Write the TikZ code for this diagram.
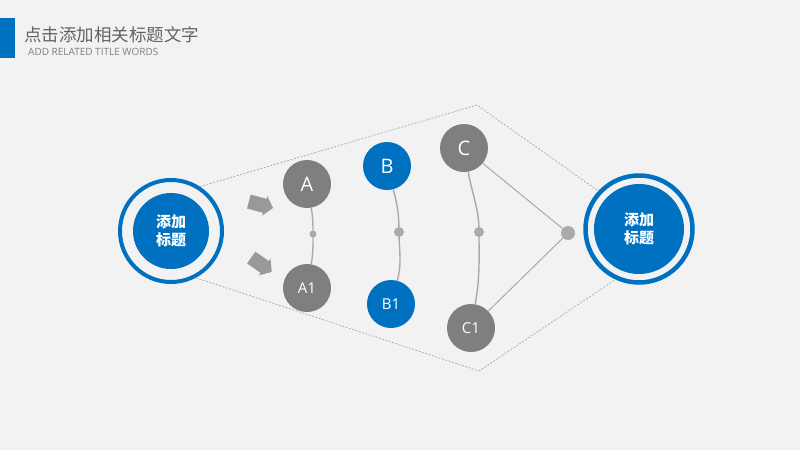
\documentclass[tikz,border=0pt]{standalone}
\usepackage{fontspec}
\setmainfont{Open Sans}
\newfontfamily\cjk{Noto Sans CJK SC}
\usetikzlibrary{shapes.arrows}
\definecolor{mainblue}{RGB}{0,112,192}
\definecolor{ballgray}{RGB}{127,127,127}
\definecolor{linegray}{RGB}{170,170,170}
\definecolor{bggray}{RGB}{242,242,242}
\definecolor{titlegray}{RGB}{100,100,100}
\begin{document}
\begin{tikzpicture}[x=1pt,y=1pt,
    ball/.style={circle,fill=ballgray,text=white,minimum size=48pt,inner sep=0pt},
    blueball/.style={ball,fill=mainblue},
    knot/.style={circle,fill=linegray,inner sep=0pt,minimum size=#1},
    link/.style={draw=linegray,line width=1.4pt},
    hull/.style={draw=linegray,line width=0.7pt,dash pattern=on 2pt off 1.5pt},
    ring/.style={circle,draw=mainblue,inner sep=0pt},
    hub/.style={circle,fill=mainblue,text=white,inner sep=0pt,align=center,
      font=\cjk\bfseries\fontsize{15}{18}\selectfont},
    pointer/.style={single arrow,fill=ballgray!80,inner sep=7pt,minimum height=25pt,
      single arrow head extend=3pt,single arrow tip angle=100}]
  \fill[bggray] (0,0) rectangle (800,-450);
  \useasboundingbox (0,0) rectangle (800,-450);

  % header
  \fill[mainblue] (0,-18) rectangle (15,-58);
  \node[anchor=west,text=titlegray,inner sep=0pt,font=\cjk\fontsize{17.5}{17.5}\selectfont] (title) at (24,-35) {点击添加相关标题文字};
  \node[anchor=west,text=ballgray,inner sep=0pt,font=\fontsize{10}{10}\selectfont] (subtitle) at (28,-52) {ADD RELATED TITLE WORDS};

  % side circles
  \node[ring,line width=4pt,minimum size=102pt] (Lring) at (171,-231) {};
  \node[hub,minimum size=76pt] (L) at (171,-231) {添加\\标题};
  \node[ring,line width=4.5pt,minimum size=107pt] (Rring) at (639,-229) {};
  \node[hub,minimum size=90pt] (R) at (639,-229) {添加\\标题};

  \coordinate (top) at (477,-105);
  \coordinate (bot) at (479,-371);
  \draw[hull] (Lring.57) -- (top) -- (Rring.137);
  \draw[hull] (Lring.-62) -- (bot) -- (Rring.-115);

  % arrows
  \node[pointer,rotate=-15] (p1) at (258,-204) {};
  \node[pointer,rotate=-35] (p2) at (259,-263) {};

  % pairs
  \node[ball,font=\fontsize{20}{20}\selectfont] (A) at (307,-184) {A};
  \node[ball,font=\fontsize{15}{15}\selectfont] (A1) at (307,-288) {A1};
  \node[blueball,font=\fontsize{20}{20}\selectfont] (B) at (387,-166) {B};
  \node[blueball,font=\fontsize{15}{15}\selectfont] (B1) at (391,-304) {B1};
  \node[ball,font=\fontsize{20}{20}\selectfont] (C) at (464,-148) {C};
  \node[ball,font=\fontsize{15}{15}\selectfont] (C1) at (471,-328) {C1};

  \node[knot=7pt] (dA) at (313,-234) {};
  \node[knot=10pt] (dB) at (399,-232) {};
  \node[knot=10pt] (dC) at (479,-232) {};
  \node[knot=14pt] (dH) at (568,-233) {};

  \draw[link] (A) to[out=-80,in=90] (dA.center) to[out=-90,in=80] (A1);
  \draw[link] (B) to[out=-75,in=90] (dB.center) to[out=-90,in=75] (B1);
  \draw[link] (C) to[out=-80,in=90] (dC.center) to[out=-90,in=80] (C1);
  \draw[link,line width=1pt] (C) -- (dH);
  \draw[link,line width=1pt] (C1) -- (dH);
\end{tikzpicture}
\end{document}
